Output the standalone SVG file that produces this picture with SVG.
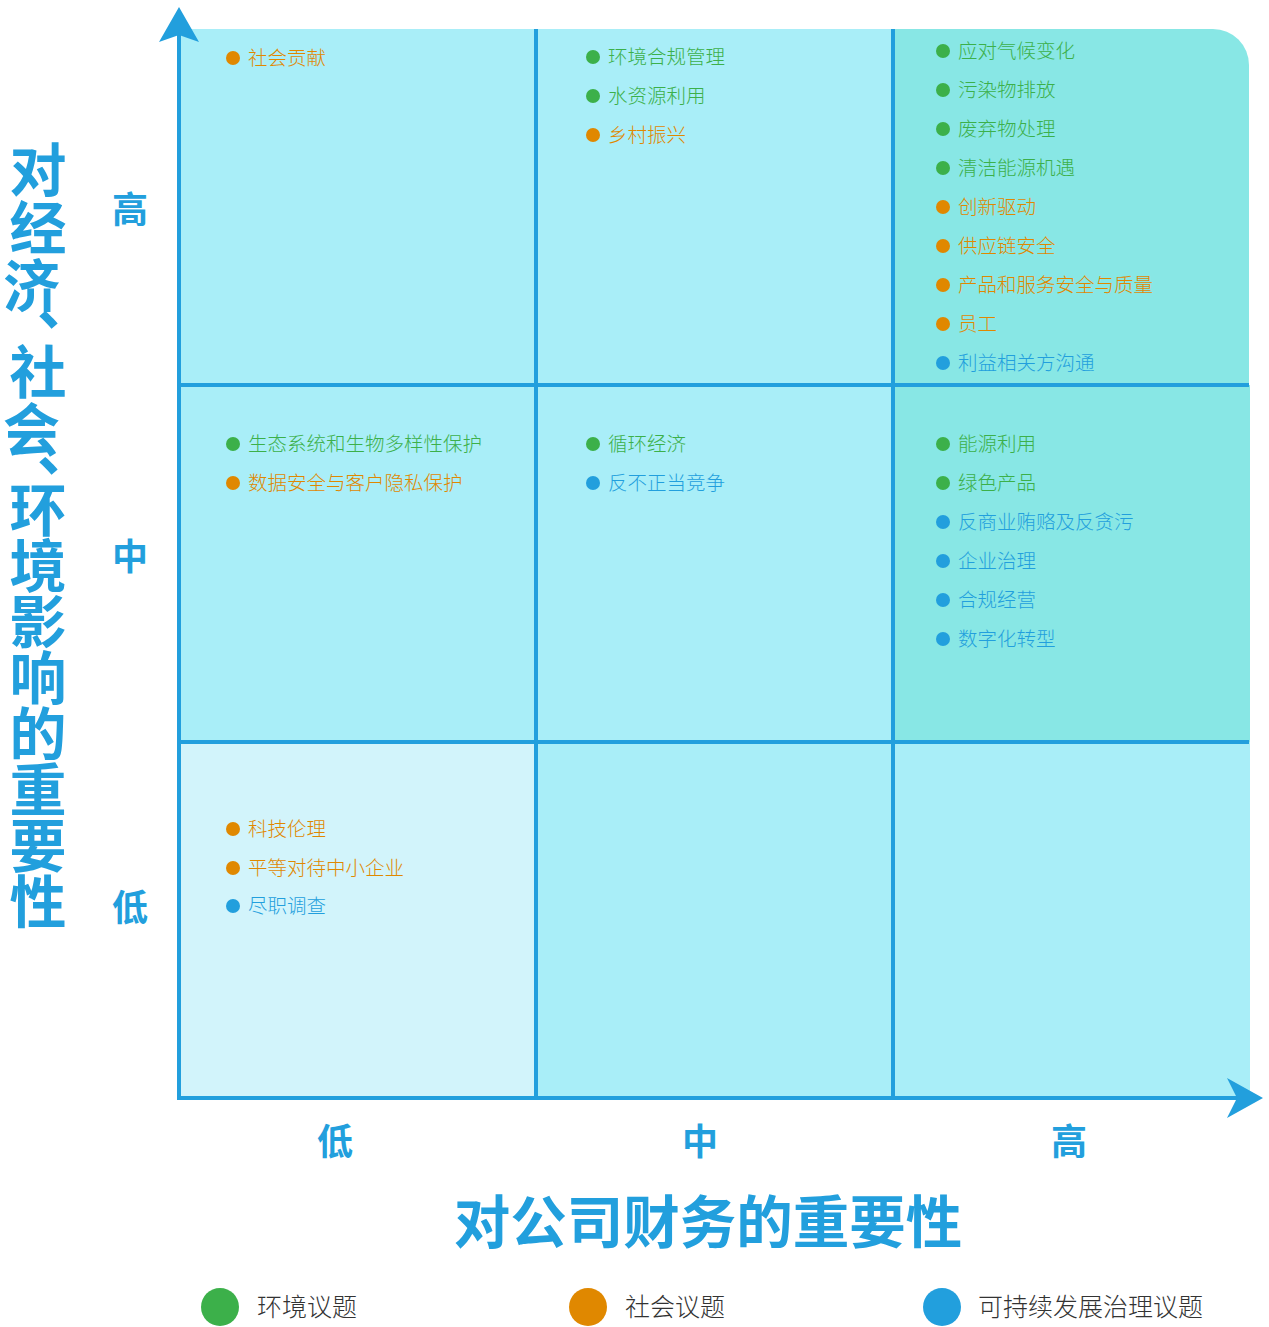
<svg xmlns="http://www.w3.org/2000/svg" width="1269" height="1327" viewBox="0 0 1269 1327">
<style>
text{font-family:"Noto Sans CJK SC","Noto Sans",sans-serif}
.it{font-size:19.5px;font-weight:300}
.g{fill:#3cb04a}.o{fill:#e08800}.b{fill:#229fdd}
.ax{font-size:36px;font-weight:bold;fill:#229fdd;text-anchor:middle}
.yt{font-size:57px;font-weight:bold;fill:#229fdd;text-anchor:middle}
.xt{font-size:56.5px;font-weight:bold;fill:#229fdd;text-anchor:middle}
.lg{font-size:25px;font-weight:300;fill:#333}
.ln{stroke:#229fdd;stroke-width:4;fill:none}
</style>
<g id="cells">
<rect x="179" y="29" width="357" height="356" fill="#a9eef8"/>
<rect x="536" y="29" width="357" height="356" fill="#a9eef8"/>
<path d="M893 29 H1213 A36 36 0 0 1 1249 65 V385 H893 Z" fill="#88e7e5"/>
<rect x="179" y="385" width="357" height="357" fill="#a9eef8"/>
<rect x="536" y="385" width="357" height="357" fill="#a9eef8"/>
<rect x="893" y="385" width="357" height="357" fill="#88e7e5"/>
<rect x="179" y="742" width="357" height="356" fill="#d2f4fb"/>
<rect x="536" y="742" width="357" height="356" fill="#a9eef8"/>
<rect x="893" y="742" width="357" height="356" fill="#a9eef8"/>
</g>
<g id="connectors">
<line class="ln" x1="179" y1="30" x2="179" y2="1098"/>
<line class="ln" x1="177" y1="1098" x2="1240" y2="1098"/>
<line class="ln" x1="536" y1="29" x2="536" y2="1098"/>
<line class="ln" x1="893" y1="29" x2="893" y2="1098"/>
<line class="ln" x1="179" y1="385" x2="1249" y2="385"/>
<line class="ln" x1="179" y1="742" x2="1249" y2="742"/>
<path d="M179 7 L199 42 L179 35 L159 42 Z" fill="#229fdd"/>
<path d="M1263 1098 L1227 1078 L1237 1098 L1227 1118 Z" fill="#229fdd"/>
</g>
<g id="cell-high-low">
<circle class="o" cx="233" cy="58" r="7"/><text class="it o" x="248" y="65">社会贡献</text>
</g>
<g id="cell-high-mid">
<circle class="g" cx="593" cy="57" r="7"/><text class="it g" x="608" y="64">环境合规管理</text>
<circle class="g" cx="593" cy="96" r="7"/><text class="it g" x="608" y="103">水资源利用</text>
<circle class="o" cx="593" cy="135" r="7"/><text class="it o" x="608" y="142">乡村振兴</text>
</g>
<g id="cell-high-high">
<circle class="g" cx="943" cy="51" r="7"/><text class="it g" x="958" y="58">应对气候变化</text>
<circle class="g" cx="943" cy="90" r="7"/><text class="it g" x="958" y="97">污染物排放</text>
<circle class="g" cx="943" cy="129" r="7"/><text class="it g" x="958" y="136">废弃物处理</text>
<circle class="g" cx="943" cy="168" r="7"/><text class="it g" x="958" y="175">清洁能源机遇</text>
<circle class="o" cx="943" cy="207" r="7"/><text class="it o" x="958" y="214">创新驱动</text>
<circle class="o" cx="943" cy="246" r="7"/><text class="it o" x="958" y="253">供应链安全</text>
<circle class="o" cx="943" cy="285" r="7"/><text class="it o" x="958" y="292">产品和服务安全与质量</text>
<circle class="o" cx="943" cy="324" r="7"/><text class="it o" x="958" y="331">员工</text>
<circle class="b" cx="943" cy="363" r="7"/><text class="it b" x="958" y="370">利益相关方沟通</text>
</g>
<g id="cell-mid-low">
<circle class="g" cx="233" cy="444" r="7"/><text class="it g" x="248" y="451">生态系统和生物多样性保护</text>
<circle class="o" cx="233" cy="483" r="7"/><text class="it o" x="248" y="490">数据安全与客户隐私保护</text>
</g>
<g id="cell-mid-mid">
<circle class="g" cx="593" cy="444" r="7"/><text class="it g" x="608" y="451">循环经济</text>
<circle class="b" cx="593" cy="483" r="7"/><text class="it b" x="608" y="490">反不正当竞争</text>
</g>
<g id="cell-mid-high">
<circle class="g" cx="943" cy="444" r="7"/><text class="it g" x="958" y="451">能源利用</text>
<circle class="g" cx="943" cy="483" r="7"/><text class="it g" x="958" y="490">绿色产品</text>
<circle class="b" cx="943" cy="522" r="7"/><text class="it b" x="958" y="529">反商业贿赂及反贪污</text>
<circle class="b" cx="943" cy="561" r="7"/><text class="it b" x="958" y="568">企业治理</text>
<circle class="b" cx="943" cy="600" r="7"/><text class="it b" x="958" y="607">合规经营</text>
<circle class="b" cx="943" cy="639" r="7"/><text class="it b" x="958" y="646">数字化转型</text>
</g>
<g id="cell-low-low">
<circle class="o" cx="233" cy="829" r="7"/><text class="it o" x="248" y="836">科技伦理</text>
<circle class="o" cx="233" cy="868" r="7"/><text class="it o" x="248" y="875">平等对待中小企业</text>
<circle class="b" cx="233" cy="906" r="7"/><text class="it b" x="248" y="913">尽职调查</text>
</g>
<g id="y-levels">
<text class="ax" x="130" y="223">高</text>
<text class="ax" x="130" y="570">中</text>
<text class="ax" x="130" y="921">低</text>
</g>
<g id="x-levels">
<text class="ax" x="335" y="1155">低</text>
<text class="ax" x="700" y="1155">中</text>
<text class="ax" x="1069" y="1155">高</text>
</g>
<g id="y-title">
<text class="yt">
<tspan x="38" y="191">对</tspan><tspan x="38" y="249">经</tspan><tspan x="38" y="307">济</tspan>
<tspan x="72" y="324">、</tspan>
<tspan x="38" y="393">社</tspan><tspan x="38" y="451">会</tspan>
<tspan x="72" y="470">、</tspan>
<tspan x="38" y="531">环</tspan><tspan x="38" y="587">境</tspan><tspan x="38" y="643">影</tspan><tspan x="38" y="699">响</tspan><tspan x="38" y="755">的</tspan><tspan x="38" y="811">重</tspan><tspan x="38" y="867">要</tspan><tspan x="38" y="923">性</tspan>
</text>
</g>
<g id="x-title">
<text class="xt" x="708" y="1243">对公司财务的重要性</text>
</g>
<g id="legend">
<circle class="g" cx="220" cy="1307" r="19"/><text class="lg" x="257" y="1316">环境议题</text>
<circle class="o" cx="588" cy="1307" r="19"/><text class="lg" x="625" y="1316">社会议题</text>
<circle class="b" cx="942" cy="1307" r="19"/><text class="lg" x="978" y="1316">可持续发展治理议题</text>
</g>
</svg>
